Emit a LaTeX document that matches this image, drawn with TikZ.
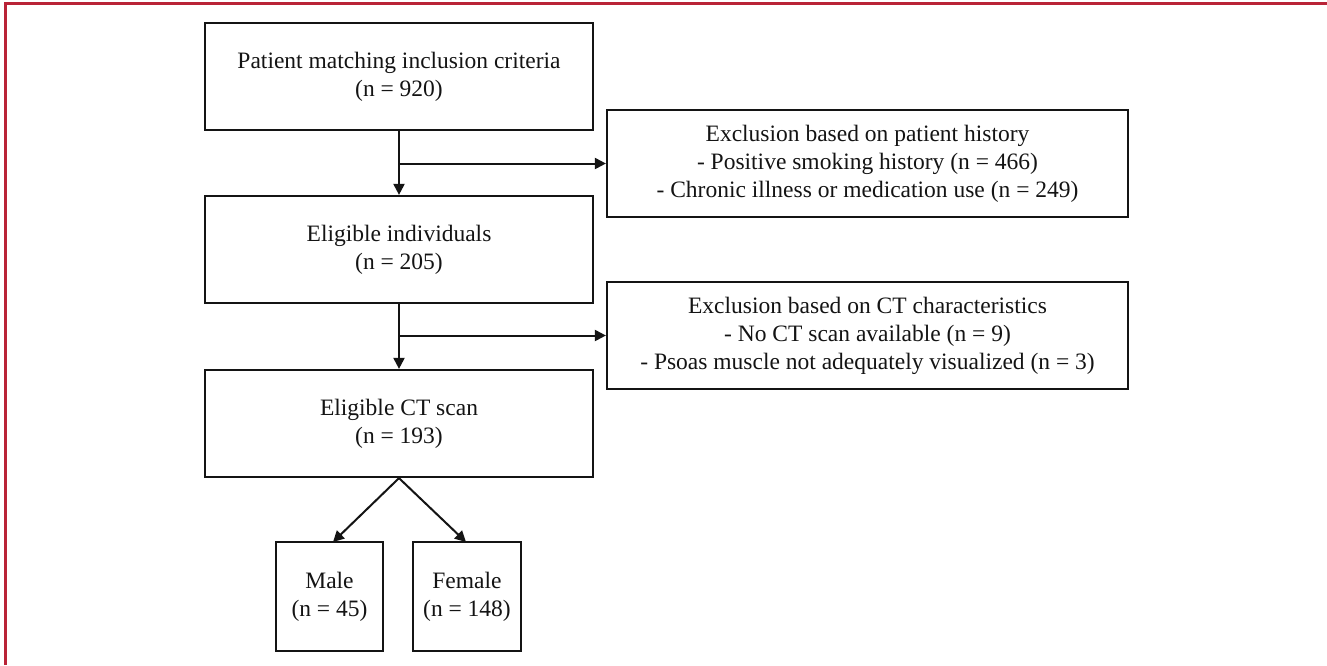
\documentclass[tikz,border=0pt]{standalone}
\usepackage{fontspec}
\setmainfont{Liberation Serif}
\usetikzlibrary{arrows.meta}
\definecolor{frame}{RGB}{185,35,55}
\definecolor{ink}{RGB}{20,20,20}
\tikzset{
  box/.style={draw=ink, line width=2.2pt, align=center, inner sep=0pt, text=ink,
    font=\fontsize{23.5}{28}\selectfont},
  conn/.style={draw=ink, line width=2pt, -{Triangle[length=11pt,width=11pt]}},
  plain/.style={draw=ink, line width=2pt}
}
\begin{document}
\begin{tikzpicture}[x=1pt,y=-1pt]
\useasboundingbox (0,0) rectangle (1327,665);
\fill[white] (0,0) rectangle (1327,665);
\draw[frame, line width=2.2pt] (5.5,665) -- (5.5,3.5) -- (1327,3.5);

\node[box, minimum width=388pt, minimum height=107pt] (b1) at (399,76.5)
  {Patient matching inclusion criteria\\(n = 920)};
\node[box, minimum width=388pt, minimum height=107pt] (b2) at (399,249.5)
  {Eligible individuals\\(n = 205)};
\node[box, minimum width=388pt, minimum height=107pt] (b3) at (399,423.5)
  {Eligible CT scan\\(n = 193)};
\node[box, minimum width=521pt, minimum height=107pt] (e1) at (867.5,163.5)
  {Exclusion based on patient history\\- Positive smoking history (n = 466)\\- Chronic illness or medication use (n = 249)};
\node[box, minimum width=521pt, minimum height=107pt] (e2) at (867.5,335.5)
  {Exclusion based on CT characteristics\\- No CT scan available (n = 9)\\- Psoas muscle not adequately visualized (n = 3)};
\node[box, minimum width=107pt, minimum height=109pt] (m) at (329.5,596.5)
  {Male\\(n = 45)};
\node[box, minimum width=108pt, minimum height=109pt] (f) at (467,596.5)
  {Female\\(n = 148)};

\coordinate (j1) at (b1.south |- e1.west);
\coordinate (j2) at (b2.south |- e2.west);
\draw[conn] (b1.south) -- (b2.north);
\draw[conn] (j1) -- (e1.west);
\draw[conn] (b2.south) -- (b3.north);
\draw[conn] (j2) -- (e2.west);
\coordinate (mt) at (333,542);
\coordinate (ft) at (466,542);
\draw[conn] (b3.south) -- (mt);
\draw[conn] (b3.south) -- (ft);
\end{tikzpicture}
\end{document}
